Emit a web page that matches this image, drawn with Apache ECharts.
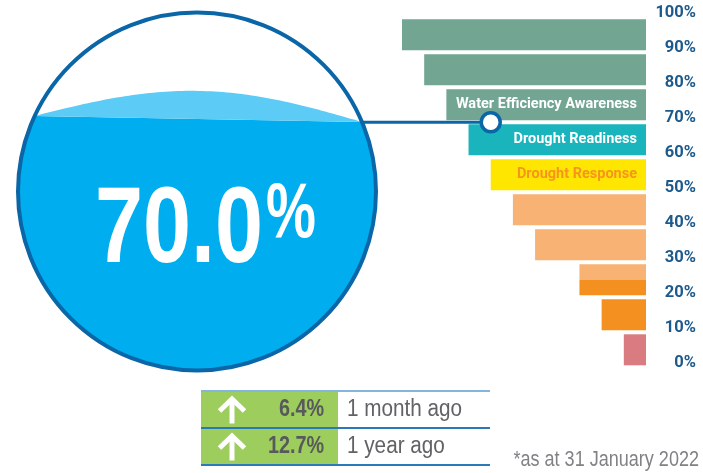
<!DOCTYPE html>
<html><head><meta charset="utf-8">
<script src="https://cdn.jsdelivr.net/npm/echarts@6/dist/echarts.min.js"></script>
<style>html,body{margin:0;padding:0;background:#fff}#c{width:703px;height:473px}</style>
</head><body><div id="c"></div>
<script>
// ---- data ----
const levelNames = ['90-100%','80-90%','70-80%','60-70%','50-60%','40-50%','30-40%','20-30%','10-20%','0-10%'];
const barWidths = [11, 10, 9, 8, 7, 6, 5, 3, 2, 1];
const barLabels = ['', '', 'Water Efficiency Awareness', 'Drought Readiness', 'Drought Response', '', '', '', '', ''];
const storageLevel = 70.0;
const markerX = 7;
const changeValues = [6.4, 12.7];
const changeLabels = ['1 month ago', '1 year ago'];
const dateNote = '*as at 31 January 2022';

// ---- styles ----
const LIB = '"Liberation Sans",Arial,sans-serif';
const ROB = 'Roboto,"Liberation Sans",sans-serif';
const SAGE = '#72a592', TEAL = '#1ab4bc', YELLOW = '#ffe600', LORANGE = '#f8b273', ORANGE = '#f4901f', PINK = '#d97b80';
const barColors = [SAGE, SAGE, SAGE, TEAL, YELLOW, LORANGE, LORANGE,
  {type:'linear',x:0,y:0,x2:0,y2:1,colorStops:[{offset:0,color:LORANGE},{offset:0.5,color:LORANGE},{offset:0.5,color:ORANGE},{offset:1,color:ORANGE}]},
  ORANGE, PINK];
const labelColors = ['#fff','#fff','#fff','#fff','#f7941d','#fff','#fff','#fff','#fff','#fff'];
const NAVY = '#1d5a8c', RING = '#0b66a8';

const chart = echarts.init(document.getElementById('c'), null, {renderer:'canvas'});

const option = {
  animation: false,
  grid: [
    {left: 402, right: 57, top: 17.3, height: 350},
    {left: 696, width: 1, top: 13, height: 350}
  ],
  xAxis: [
    {gridIndex:0, type:'value', min:0, max:11, inverse:true, show:false},
    {gridIndex:1, type:'value', min:0, max:1, show:false}
  ],
  yAxis: [
    {gridIndex:0, type:'category', data: levelNames, inverse:true, show:false},
    {gridIndex:0, type:'value', min:0, max:100, show:false},
    {gridIndex:1, type:'value', min:0, max:100, interval:10, position:'left',
      axisLine:{show:false}, axisTick:{show:false}, splitLine:{show:false},
      axisLabel:{margin:0, formatter:'{value}%', color:NAVY, fontFamily:ROB, fontWeight:'bold', fontSize:16.5}}
  ],
  series: [
    {type:'bar', xAxisIndex:0, yAxisIndex:0, barWidth:31,
      data: barWidths.map((v,i)=>({value:v, itemStyle:{color:barColors[i]},
        label:{show: !!barLabels[i], formatter: barLabels[i], color: labelColors[i]}})),
      label:{position:'insideRight', distance:9, fontFamily:ROB, fontWeight:'bold', fontSize:14.5}
    },
    {type:'scatter', xAxisIndex:0, yAxisIndex:1, z:5, symbol:'circle', symbolSize:19,
      itemStyle:{color:'#fff', borderColor:RING, borderWidth:3.5, opacity:1},
      data:[[markerX, storageLevel]]}
  ]
};
chart.setOption(option);

// ---- circle gauge ----
const cx = 197, cy = 191.5, r = 179;
const wl = cy + r - 2 * r * storageLevel / 100;
const yL = wl - 4, yR = wl + 2;
const thR = Math.asin((yR - cy) / r), thL = Math.PI - Math.asin((yL - cy) / r);
const water = [];
for (let i = 0; i <= 120; i++) {
  const t = thR + (thL - thR) * i / 120;
  water.push([cx + r * Math.cos(t), cy + r * Math.sin(t)]);
}
const pL = water[water.length - 1], pR = water[0];
const wave = [];
for (let i = 0; i <= 80; i++) {
  const t = i / 80;
  const x = pL[0] + (pR[0] - pL[0]) * t;
  const yc = pL[1] + (pR[1] - pL[1]) * t;
  wave.push([x, yc - 28 * Math.sin(Math.PI * t)]);
}
const mk = chart.convertToPixel({xAxisIndex:0, yAxisIndex:1}, [markerX, storageLevel]);
const lineStartX = cx + Math.sqrt(r * r - (mk[1] - cy) * (mk[1] - cy));

const graphics = [
  {type:'polygon', shape:{points: water}, style:{fill:'#00aeef'}, z:1},
  {type:'polygon', shape:{points: wave}, style:{fill:'#5ccbf5'}, z:1},
  {type:'circle', shape:{cx:cx, cy:cy, r:r}, style:{fill:null, stroke:RING, lineWidth:4}, z:2},
  {type:'line', shape:{x1:lineStartX, y1:mk[1], x2:mk[0]-9, y2:mk[1]}, style:{stroke:RING, lineWidth:3}, z:2},
  {type:'text', x:95, y:232, scaleX:0.8, z:3, style:{text: storageLevel.toFixed(1), fill:'#fff', font:'bold 108px ' + LIB, textAlign:'left', textVerticalAlign:'middle'}},
  {type:'text', x:266, y:215, scaleX:0.72, z:3, style:{text:'%', fill:'#fff', font:'bold 78px ' + LIB, textAlign:'left', textVerticalAlign:'middle'}}
];

// ---- change table ----
const tX = 201, tW = 289, gW = 137, tY = 391, rowH = 37;
graphics.push({type:'rect', shape:{x:tX, y:tY, width:gW, height:rowH*changeValues.length}, style:{fill:'#9dcd5d'}, z:1});
for (let k = 0; k <= changeValues.length; k++) {
  graphics.push({type:'line', shape:{x1:tX, y1:tY + k*rowH, x2:tX + tW, y2:tY + k*rowH},
    style:{stroke: k === 0 ? '#84b6dd' : '#2b79b6', lineWidth:2}, z:2});
}
changeValues.forEach((v, i) => {
  const yc = tY + rowH * i + rowH / 2;
  const ax = 232;
  graphics.push({type:'polyline', shape:{points:[[ax, yc+14],[ax, yc-9]]}, style:{stroke:'#fff', lineWidth:5, fill:null}, z:3});
  graphics.push({type:'polyline', shape:{points:[[ax-12.5, yc+1.5],[ax, yc-10.5],[ax+12.5, yc+1.5]]}, style:{stroke:'#fff', lineWidth:5, fill:null, lineJoin:'miter'}, z:3});
  graphics.push({type:'text', x:324, y:yc, scaleX:0.86, z:3, style:{text: v.toFixed(1) + '%', fill:'#58595b', font:'bold 23px ' + LIB, textAlign:'right', textVerticalAlign:'middle'}});
  graphics.push({type:'text', x:347, y:yc, scaleX:0.9, z:3, style:{text: changeLabels[i], fill:'#616265', font:'23px ' + LIB, textAlign:'left', textVerticalAlign:'middle'}});
});
graphics.push({type:'text', x:699, y:460, scaleX:0.82, z:3, style:{text: dateNote, fill:'#808285', font:'22px ' + LIB, textAlign:'right', textVerticalAlign:'middle'}});

chart.setOption({graphic: graphics});
</script>
</body></html>
